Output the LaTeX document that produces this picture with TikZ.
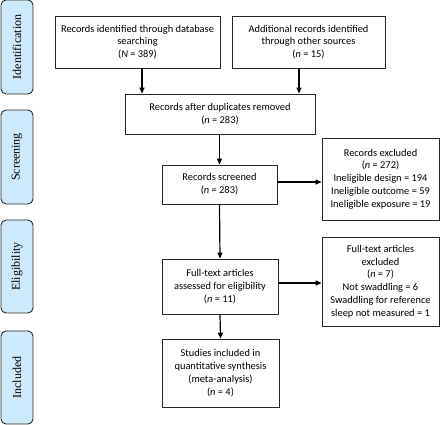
\documentclass[tikz,border=0pt]{standalone}
\usepackage{fontspec}
\setmainfont{Carlito}
\newfontfamily\sidefont{Liberation Serif}
\usetikzlibrary{arrows.meta}
\definecolor{sidefill}{HTML}{CDE9FB}
\definecolor{sidedraw}{HTML}{2B2B2B}
\tikzset{
  px/.style={x=1pt,y=-1pt},
  flowbox/.style={draw=black!85, line width=0.8pt, fill=white, align=center,
    inner sep=1pt, font=\fontsize{10.4}{12.8}\selectfont},
  sidebox/.style={draw=sidedraw, line width=0.9pt, fill=sidefill, rounded corners=5pt,
    minimum width=32pt, inner sep=0pt},
  sidelabel/.style={rotate=90, font=\sidefont\fontsize{12}{14}\selectfont},
  arr/.style={line width=1.2pt, -{Triangle[length=6pt,width=5pt]}}
}
\begin{document}
\begin{tikzpicture}[px]
\useasboundingbox (0,0) rectangle (440,425);
% side boxes
\node[sidebox, minimum height=94pt] (sI) at (17,47) {};
\node[sidelabel] (lI) at (sI.center) {Identification};
\node[sidebox, minimum height=94pt] (sS) at (17,157) {};
\node[sidelabel] (lS) at (sS.center) {Screening};
\node[sidebox, minimum height=93pt] (sE) at (17,266.5) {};
\node[sidelabel] (lE) at (sE.center) {Eligibility};
\node[sidebox, minimum height=93pt] (sN) at (17,377.5) {};
\node[sidelabel] (lN) at (sN.center) {Included};
% flow boxes
\node[flowbox, minimum width=165pt, minimum height=52pt] (b1) at (137.5,42)
  {Records identified through database\\searching\\(\textit{N} = 389)};
\node[flowbox, minimum width=153pt, minimum height=52pt] (b2) at (308.5,42)
  {Additional records identified\\through other sources\\(\textit{n} = 15)};
\node[flowbox, minimum width=190pt, minimum height=40pt] (dup) at (220,114)
  {Records after duplicates removed\\(\textit{n} = 283)};
\node[flowbox, minimum width=115pt, minimum height=39pt] (scr) at (219.5,184.5)
  {Records screened\\(\textit{n} = 283)};
\node[flowbox, minimum width=117pt, minimum height=82pt] (exc) at (380.5,179)
  {Records excluded\\(\textit{n} = 272)\\Ineligible design = 194\\Ineligible outcome = 59\\Ineligible exposure = 19};
\node[flowbox, minimum width=116pt, minimum height=55pt] (ft) at (220,286.5)
  {Full-text articles\\assessed for eligibility\\(\textit{n} = 11)};
\node[flowbox, minimum width=117pt, minimum height=89pt] (ftx) at (380.5,281.5)
  {Full-text articles\\excluded\\(\textit{n} = 7)\\Not swaddling = 6\\Swaddling for reference\\sleep not measured = 1};
\node[flowbox, minimum width=117pt, minimum height=68pt] (inc) at (220.5,373)
  {Studies included in\\quantitative synthesis\\(meta-analysis)\\(\textit{n} = 4)};
% connector anchors
\coordinate (x1) at (142,0);
\coordinate (x2) at (299,0);
\coordinate (yA) at (0,182);
\coordinate (yB) at (0,283);
% arrows
\draw[arr] (b1.south -| x1) -- (dup.north -| x1);
\draw[arr] (b2.south -| x2) -- (dup.north -| x2);
\draw[arr] (dup.south -| scr.north) -- (scr.north);
\draw[arr] (scr.east |- yA) -- (exc.west |- yA);
\draw[arr] (scr.south) -- (ft.north);
\draw[arr] (ft.east |- yB) -- (ftx.west |- yB);
\draw[arr] (ft.south) -- (inc.north);
\end{tikzpicture}
\end{document}
